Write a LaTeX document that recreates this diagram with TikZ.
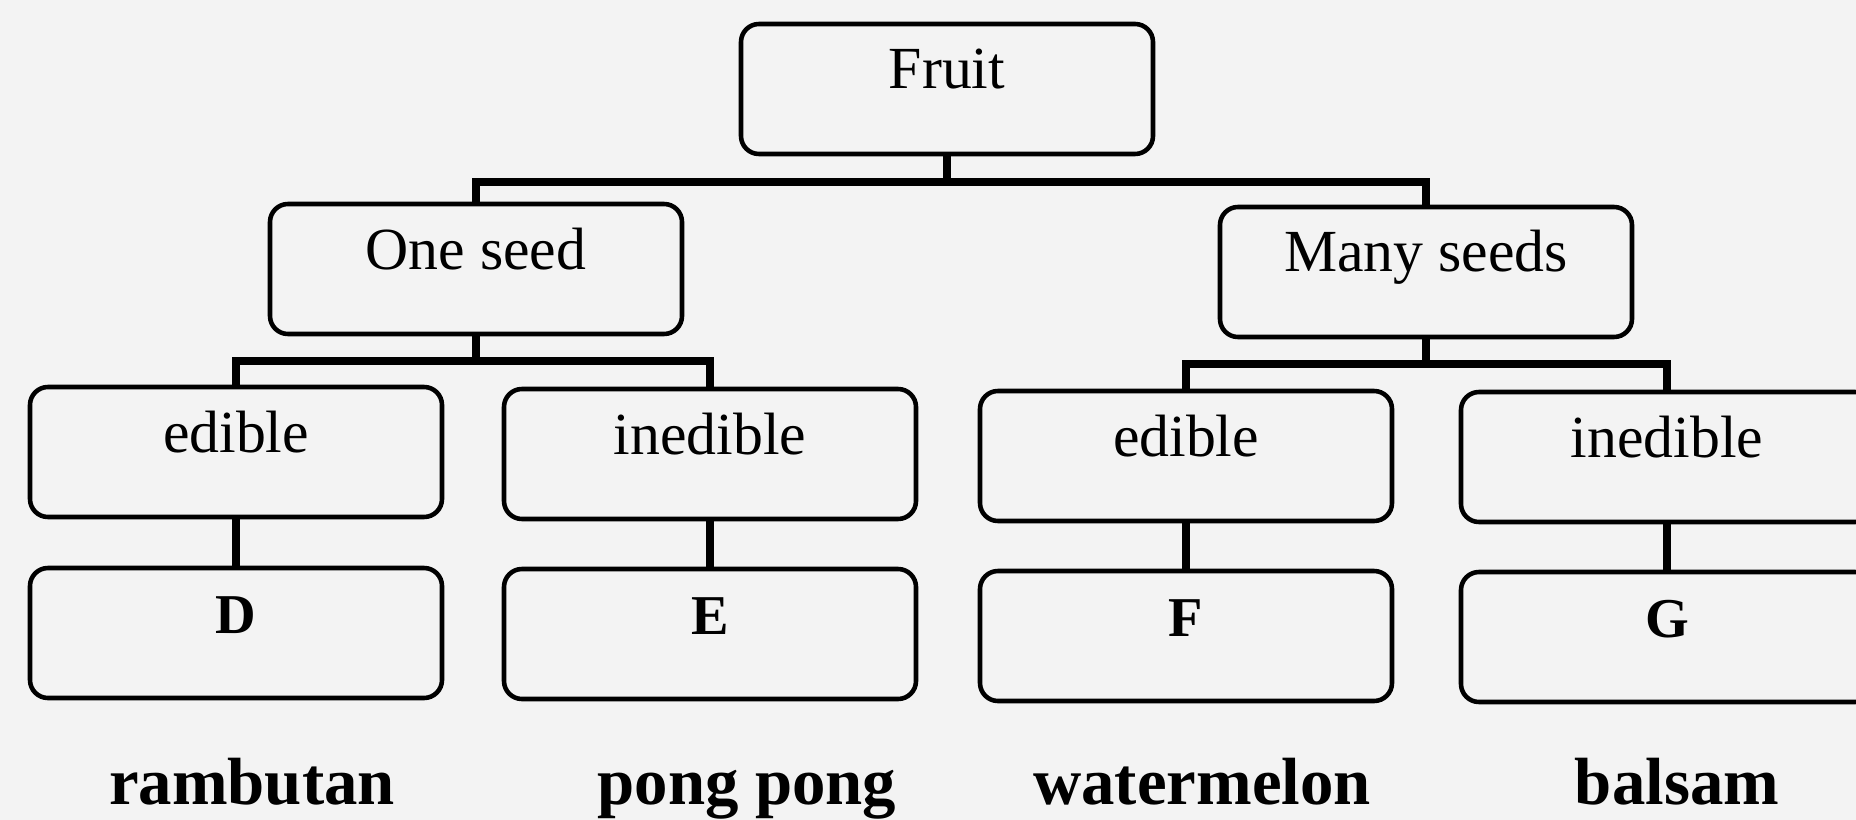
\documentclass[tikz,border=0pt]{standalone}
\usepackage{fontspec}
\setmainfont{Liberation Serif}
\definecolor{paper}{HTML}{F3F3F3}
\begin{document}
\begin{tikzpicture}[
 box/.style={draw,rounded corners=0.18cm,line width=1.3pt,minimum width=4.12cm,minimum height=1.3cm,text height=0.45cm,text depth=0.45cm,font=\fontsize{17}{20}\selectfont},
 leaf/.style={box,font=\fontsize{16}{20}\selectfont\bfseries},
 conn/.style={line width=2.3pt},
 fruitname/.style={anchor=base,font=\fontsize{19}{22}\selectfont\bfseries}]
\useasboundingbox (0,0) rectangle (18.56,-8.2);
\fill[paper] (0,0) rectangle (18.56,-8.2);
\clip (0,0) rectangle (18.56,-8.2);
\node[box] (fruit) at (9.47,-0.89) {Fruit};
\node[box] (one) at (4.76,-2.69) {One seed};
\node[box] (many) at (14.26,-2.72) {Many seeds};
\node[box] (ed1) at (2.36,-4.52) {edible};
\node[box] (ined1) at (7.10,-4.54) {inedible};
\node[box] (ed2) at (11.86,-4.56) {edible};
\node[box] (ined2) at (16.67,-4.57) {inedible};
\node[leaf] (d) at (2.36,-6.33) {D};
\node[leaf] (e) at (7.10,-6.34) {E};
\node[leaf] (f) at (11.86,-6.36) {F};
\node[leaf] (g) at (16.67,-6.37) {G};
\draw[conn] (fruit.south) -- ++(0,-0.26) -| (one.north);
\draw[conn] (fruit.south) -- ++(0,-0.26) -| (many.north);
\draw[conn] (one.south) -- ++(0,-0.25) -| (ed1.north);
\draw[conn] (one.south) -- ++(0,-0.25) -| (ined1.north);
\draw[conn] (many.south) -- ++(0,-0.25) -| (ed2.north);
\draw[conn] (many.south) -- ++(0,-0.25) -| (ined2.north);
\draw[conn] (ed1) -- (d);
\draw[conn] (ined1) -- (e);
\draw[conn] (ed2) -- (f);
\draw[conn] (ined2) -- (g);
\node[fruitname] (ram) at (2.52,-8.04) {rambutan};
\node[fruitname] (pong) at (7.47,-8.04) {pong pong};
\node[fruitname] (water) at (12.02,-8.04) {watermelon};
\node[fruitname] (bal) at (16.77,-8.04) {balsam};
\end{tikzpicture}
\end{document}
